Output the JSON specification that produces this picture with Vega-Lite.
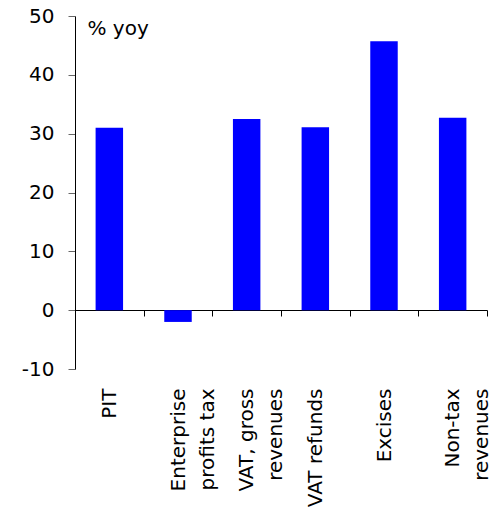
{
  "$schema": "https://vega.github.io/schema/vega-lite/v6.json",
  "width": 412,
  "height": 353,
  "autosize": "none",
  "padding": {"left": 75, "top": 16, "right": 7, "bottom": 144},
  "background": "white",
  "title": {"text": "Budgetary collections", "fontSize": 20, "fontWeight": "bold", "font": "DejaVu Sans", "color": "black", "baseline": "alphabetic", "offset": 4, "dx": -14},
  "data": {"values": [
    {"cat": "PIT", "v": 31.0},
    {"cat": "Enterprise|profits tax", "v": -2.0},
    {"cat": "VAT, gross|revenues", "v": 32.5},
    {"cat": "VAT refunds", "v": 31.1},
    {"cat": "Excises", "v": 45.7},
    {"cat": "Non-tax|revenues", "v": 32.7}
  ]},
  "mark": {"type": "bar", "color": "#0000FF", "width": {"band": 0.4}},
  "encoding": {
    "x": {
      "field": "cat", "type": "nominal", "sort": null,
      "scale": {"paddingInner": 0, "paddingOuter": 0},
      "axis": {
        "title": null, "orient": "bottom", "offset": -59,
        "domain": true, "domainColor": "black", "ticks": true, "tickBand": "extent", "tickSize": 6, "tickColor": "black",
        "labelAngle": -90, "labelPadding": 72, "labelFont": "DejaVu Sans", "labelFontSize": 20, "labelColor": "black",
        "labelLineHeight": 29, "labelExpr": "datum.value ? split(datum.value, '|') : ''"
      }
    },
    "y": {
      "field": "v", "type": "quantitative",
      "scale": {"domain": [-10, 50], "nice": false, "zero": false},
      "axis": {
        "values": [-10, 0, 10, 20, 30, 40, 50], "grid": false,
        "domainColor": "black", "tickColor": "#666", "tickSize": 7,
        "labelPadding": 14, "labelFont": "DejaVu Sans", "labelFontSize": 20, "labelColor": "black",
        "labelExpr": "'' + datum.value",
        "title": "% yoy", "titleAngle": 0, "titleAlign": "left", "titleBaseline": "top",
        "titleX": 12, "titleY": 2, "titleFont": "DejaVu Sans", "titleFontSize": 20, "titleFontWeight": "normal", "titleColor": "black"
      }
    }
  },
  "config": {"view": {"stroke": null}}
}
